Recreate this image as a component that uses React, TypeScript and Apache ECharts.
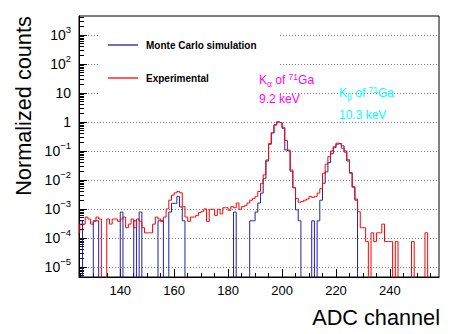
import React, { useEffect, useRef } from 'react';
import * as echarts from 'echarts';

// ---- data: one entry per ADC channel, starting at FIRST_CHANNEL ----
const FIRST_CHANNEL = 124;

// Experimental spectrum (normalized counts), channels 124 .. 257
const experimental = [
  1.5e-4, 3e-4, 3e-4, 5.25e-4, 4.5e-4, 3e-4, 3.75e-4, 5.25e-4, 4.5e-4, 0, // 124-133
  0, 4.5e-4, 3e-4, 4.5e-4, 4.5e-4, 3.75e-4, 4.5e-4, 5.25e-4, 2.25e-4, 3e-4, // 134-143
  4.5e-4, 2.25e-4, 4.5e-4, 3.75e-4, 2.25e-4, 1.5e-4, 1.5e-4, 1.5e-4, 3e-4, 5.25e-4, // 144-153
  4.5e-4, 3.75e-4, 5.25e-4, 1e-3, 2e-3, 3e-3, 3.6e-3, 4e-3, 3.6e-3, 1.2e-3, // 154-163
  5.25e-4, 3.75e-4, 5.25e-4, 5.25e-4, 6e-4, 7.5e-4, 8.25e-4, 1e-3, 3.75e-4, 9.75e-4, // 164-173
  9.75e-4, 6e-4, 9.75e-4, 6.75e-4, 1.1e-3, 1.1e-3, 9e-4, 1.2e-3, 1.1e-3, 1.6e-3, // 174-183
  9.75e-4, 1.2e-3, 1.3e-3, 1.6e-3, 2e-3, 2.3e-3, 2.7e-3, 4e-3, 7.6e-3, 0.015, // 184-193
  0.049, 0.18, 0.42, 0.79, 1.0, 0.95, 0.65, 0.23, 0.108, 0.022, // 194-203
  5.4e-3, 2.3e-3, 1.7e-3, 1.8e-3, 2e-3, 2.2e-3, 2.7e-3, 2.5e-3, 2.7e-3, 3.5e-3, // 204-213
  5e-3, 0.017, 0.035, 0.064, 0.1, 0.141, 0.185, 0.175, 0.124, 0.09, // 214-223
  0.05, 0.017, 5.9e-3, 2.2e-3, 8e-4, 2.25e-4, 2.25e-4, 7.5e-5, 0, 1.5e-4, // 224-233
  7.5e-5, 1.5e-4, 1.5e-4, 3e-4, 7.5e-5, 7.5e-5, 7.5e-5, 0, 7.5e-5, 0, // 234-243
  0, 0, 0, 0, 7.5e-5, 0, 0, 0, 0, 1.5e-4, // 244-253
  0, 0, 0, 0, // 254-257
];

// Monte Carlo simulation (normalized counts), channels 124 .. 257
const monteCarlo = [
  3.9e-4, 3.9e-4, 0, 0, 0, 0, 3.9e-4, 3.9e-4, 0, 0, // 124-133
  0, 0, 0, 0, 0, 0, 7.8e-4, 0, 0, 0, // 134-143
  0, 3.9e-4, 0, 7.8e-4, 0, 0, 0, 0, 0, 0, // 144-153
  3.9e-4, 3.9e-4, 0, 0, 7.8e-4, 1.56e-3, 1.56e-3, 2.7e-3, 1.17e-3, 3.9e-4, // 154-163
  0, 0, 0, 0, 0, 0, 0, 0, 0, 0, // 164-173
  0, 0, 0, 0, 0, 0, 0, 0, 7.8e-4, 0, // 174-183
  0, 0, 0, 0, 3.9e-4, 3.9e-4, 7.8e-4, 1.6e-3, 3.5e-3, 0.011, // 184-193
  0.045, 0.17, 0.42, 0.79, 1.0, 0.95, 0.6, 0.108, 0.1, 0.02, // 194-203
  5.4e-3, 9.3e-4, 3.9e-4, 0, 0, 0, 0, 3.9e-4, 0, 3.9e-4, // 204-213
  2e-3, 7.7e-3, 0.019, 0.04, 0.08, 0.13, 0.17, 0.18, 0.15, 0.1, // 214-223
  0.045, 0.018, 5.6e-3, 2e-3, 0, 0, 0, 0, 0, 0, // 224-233
  0, 0, 0, 0, 0, 0, 0, 0, 0, 0, // 234-243
  0, 0, 0, 0, 0, 0, 0, 0, 0, 0, // 244-253
  0, 0, 0, 0, // 254-257
];

const xMajorTicks = [140, 160, 180, 200, 220, 240];
const xMinorTicks = [125, 130, 135, 145, 150, 155, 165, 170, 175, 185, 190, 195, 205, 210, 215, 225, 230, 235, 245, 250, 255];
const yDecades = [1e-5, 1e-4, 1e-3, 1e-2, 1e-1, 1, 10, 100, 1000];

const X_MIN = 124.7;
const X_MAX = 258.2;
const Y_MIN = 4.5e-6;
const Y_MAX = 4500;
const EMPTY_BIN = 1e-9; // empty bins fall below the frame, as ROOT draws them

const FONT = '"Liberation Sans", Arial, Helvetica, sans-serif';

function yMinorTicks(): number[] {
  const out: number[] = [];
  for (let n = -6; n <= 3; n++) {
    for (let k = 2; k <= 9; k++) {
      const v = k * Math.pow(10, n);
      if (v > Y_MIN && v < Y_MAX) out.push(v);
    }
  }
  return out;
}

function toSeries(values: number[]) {
  return values.map((v, i) => [FIRST_CHANNEL + i + 0.5, v > 0 ? v : EMPTY_BIN]);
}

function yLabel(v: number): string {
  const e = Math.round(Math.log10(v));
  if (e === 0) return '{b|1}';
  if (e === 1) return '{b|10}';
  return '{b|10}{sup|' + (e < 0 ? '\u2212' + -e : String(e)) + '}';
}

function annotationRich(color: string) {
  return {
    b: { fontSize: 12, lineHeight: 22, fill: color, color, fontFamily: FONT },
    sub: { fontSize: 8.5, lineHeight: 9, verticalAlign: 'bottom', fill: color, color, fontFamily: FONT, padding: [0, 0, 3, 0] },
    sup: { fontSize: 8.5, lineHeight: 9, verticalAlign: 'top', fill: color, color, fontFamily: FONT, padding: [3, 0, 0, 0] },
  };
}

export default function App() {
  const ref = useRef<HTMLDivElement>(null);
  useEffect(() => {
    const chart = echarts.init(ref.current!, null, { renderer: 'svg' });
    const option: any = {
      animation: false,
      backgroundColor: '#fff',
      textStyle: { fontFamily: FONT },
      grid: {
        left: 79, top: 16, right: 24, bottom: 57,
        show: true, borderColor: '#000', borderWidth: 1, backgroundColor: 'transparent',
      },
      xAxis: [
        {
          type: 'value', min: X_MIN, max: X_MAX, position: 'bottom',
          axisLine: { show: true, lineStyle: { color: '#000', width: 1 } },
          axisTick: { show: true, inside: true, length: 8, customValues: xMajorTicks, lineStyle: { color: '#000' } },
          axisLabel: {
            show: true, customValues: xMajorTicks, margin: 7,
            fontSize: 13, color: '#000', fontFamily: FONT,
          },
          splitLine: { show: false },
        },
        {
          type: 'value', min: X_MIN, max: X_MAX, position: 'bottom',
          axisLine: { show: false },
          axisTick: { show: true, inside: true, length: 4, customValues: xMinorTicks, lineStyle: { color: '#000' } },
          axisLabel: { show: false },
          splitLine: { show: false },
        },
      ],
      yAxis: [
        {
          type: 'log', min: Y_MIN, max: Y_MAX, position: 'left',
          axisLine: { show: true, lineStyle: { color: '#000', width: 1 } },
          axisTick: { show: true, inside: true, length: 8, customValues: yDecades, lineStyle: { color: '#000' } },
          axisLabel: {
            show: true, customValues: yDecades, margin: 8,
            color: '#000', fontFamily: FONT,
            formatter: yLabel,
            rich: {
              b: { fontSize: 14, lineHeight: 24, color: '#000', fontFamily: FONT },
              sup: { fontSize: 9.5, lineHeight: 10, verticalAlign: 'top', color: '#000', fontFamily: FONT, padding: [2, 0, 0, 0] },
            },
          },
          splitLine: { show: true, lineStyle: { color: '#808080', width: 1, type: [1, 2] } },
        },
        {
          type: 'log', min: Y_MIN, max: Y_MAX, position: 'left',
          axisLine: { show: false },
          axisTick: { show: true, inside: true, length: 5, customValues: yMinorTicks(), lineStyle: { color: '#000' } },
          axisLabel: { show: false },
          splitLine: { show: false },
        },
      ],
      legend: {
        orient: 'vertical', left: 108, top: 39, padding: 0,
        icon: 'rect', itemWidth: 30, itemHeight: 1.3, itemGap: 21, z: 6,
        selectedMode: false,
        textStyle: { fontSize: 10, fontWeight: 'bold', color: '#000', fontFamily: FONT, lineHeight: 12, padding: [0, 0, 0, 3] },
        data: ['Monte Carlo simulation', 'Experimental'],
      },
      series: [
        {
          name: 'Monte Carlo simulation', type: 'line', step: 'middle',
          xAxisIndex: 0, yAxisIndex: 0,
          data: toSeries(monteCarlo), symbol: 'none', showSymbol: false, clip: true,
          color: '#2020a8', lineStyle: { color: '#2020a8', width: 1 }, z: 2,
        },
        {
          name: 'Experimental', type: 'line', step: 'middle',
          xAxisIndex: 0, yAxisIndex: 0,
          data: toSeries(experimental), symbol: 'none', showSymbol: false, clip: true,
          color: '#ff0000', lineStyle: { color: '#ff0000', width: 1 }, z: 3,
        },
      ],
      graphic: [
        { type: 'rect', z: 5, shape: { x: 100, y: 24, width: 178, height: 78 }, style: { fill: '#fff' } },
        {
          type: 'text', z: 7, x: 259, y: 80,
          style: {
            text: '{b|K}{sub|\u03b1}{b| of }{sup|71}{b|Ga}', fill: '#ff00ff',
            fontFamily: FONT, align: 'left', verticalAlign: 'middle',
            rich: annotationRich('#ff00ff'),
          },
        },
        {
          type: 'text', z: 7, x: 259, y: 98.5,
          style: { text: '9.2 keV', fill: '#ff00ff', fontSize: 12, fontFamily: FONT, align: 'left', verticalAlign: 'middle' },
        },
        {
          type: 'text', z: 7, x: 339, y: 93,
          style: {
            text: '{b|K}{sub|\u03b2}{b| of }{sup|71}{b|Ga}', fill: '#00ffff',
            fontFamily: FONT, align: 'left', verticalAlign: 'middle',
            rich: annotationRich('#00ffff'),
          },
        },
        {
          type: 'text', z: 7, x: 339, y: 115,
          style: { text: '10.3 keV', fill: '#00ffff', fontSize: 12, fontFamily: FONT, align: 'left', verticalAlign: 'middle' },
        },
        {
          type: 'text', z: 7, x: 23, y: 106, rotation: Math.PI / 2,
          style: { text: 'Normalized counts', fill: '#000', fontSize: 21.7, fontFamily: FONT, align: 'center', verticalAlign: 'middle' },
        },
        {
          type: 'text', z: 7, x: 440, y: 317,
          style: { text: 'ADC channel', fill: '#000', fontSize: 21.7, fontFamily: FONT, align: 'right', verticalAlign: 'middle' },
        },
      ],
    };
    chart.setOption(option);
    return () => chart.dispose();
  }, []);
  return (
    <div
      ref={ref}
      style={{ position: 'fixed', left: 0, top: 0, width: 463, height: 334, background: '#fff' }}
    />
  );
}
